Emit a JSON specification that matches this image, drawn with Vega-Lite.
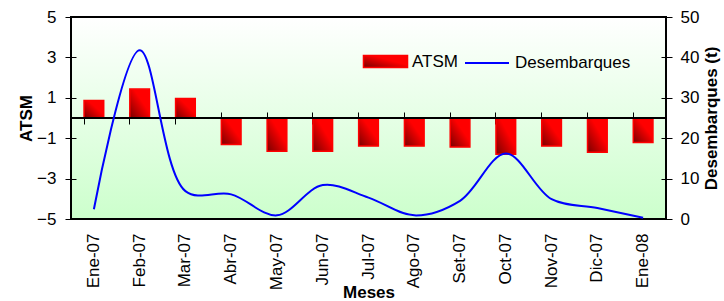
{
  "$schema": "https://vega.github.io/schema/vega-lite/v6.json",
  "width": 595,
  "height": 202,
  "autosize": "none",
  "padding": {"left": 71, "top": 17, "right": 58, "bottom": 82},
  "background": "white",
  "config": {
    "font": "Liberation Sans",
    "view": {
      "stroke": "#000",
      "strokeWidth": 2,
      "fill": {"gradient": "linear", "x1": 0, "y1": 1, "x2": 0, "y2": 0,
        "stops": [{"offset": 0, "color": "#ccffcc"}, {"offset": 1, "color": "#ffffff"}]}
    },
    "axis": {
      "labelFont": "Liberation Sans", "labelFontSize": 17, "labelColor": "#000",
      "titleFont": "Liberation Sans", "titleFontSize": 17, "titleFontWeight": "bold", "titleColor": "#000",
      "tickColor": "#000", "domainColor": "#000", "grid": false
    },
    "legend": {"labelFont": "Liberation Sans", "labelFontSize": 17, "labelColor": "#000"}
  },
  "data": {"values": [
    {"mes": "Ene-07", "atsm": 0.87, "desemb": 2.4},
    {"mes": "Feb-07", "atsm": 1.43, "desemb": 41.8},
    {"mes": "Mar-07", "atsm": 0.97, "desemb": 6.9},
    {"mes": "Abr-07", "atsm": -1.31, "desemb": 6.1},
    {"mes": "May-07", "atsm": -1.64, "desemb": 0.9},
    {"mes": "Jun-07", "atsm": -1.64, "desemb": 8.4},
    {"mes": "Jul-07", "atsm": -1.39, "desemb": 5.3},
    {"mes": "Ago-07", "atsm": -1.39, "desemb": 0.9},
    {"mes": "Set-07", "atsm": -1.44, "desemb": 4.5},
    {"mes": "Oct-07", "atsm": -1.8, "desemb": 16.2},
    {"mes": "Nov-07", "atsm": -1.39, "desemb": 4.9},
    {"mes": "Dic-07", "atsm": -1.7, "desemb": 2.7},
    {"mes": "Ene-08", "atsm": -1.21, "desemb": 0.3}
  ]},
  "layer": [
    {
      "mark": {"type": "bar", "strokeWidth": 1.5,
        "fill": {"gradient": "linear", "x1": 0, "y1": 1, "x2": 1, "y2": 0,
          "stops": [{"offset": 0, "color": "#7a0000"}, {"offset": 0.6, "color": "#ff0000"}, {"offset": 1, "color": "#ff0000"}]}},
      "encoding": {
        "x": {"field": "mes", "type": "nominal", "sort": null,
          "scale": {"paddingInner": 0.57, "paddingOuter": 0.285},
          "axis": {"title": "Meses", "labelAngle": -90, "ticks": false, "tickSize": 0, "domain": false, "labelPadding": 14, "titlePadding": -5}},
        "y": {"field": "atsm", "type": "quantitative",
          "scale": {"domain": [-5, 5], "nice": false},
          "axis": {"title": "ATSM", "values": [-5, -3, -1, 1, 3, 5], "tickSize": 6, "domain": false, "labelPadding": 9, "titlePadding": 1}},
        "stroke": {"datum": "ATSM", "type": "nominal", "scale": {"range": ["#ff0000"]},
          "legend": {"title": null, "orient": "none", "legendX": 306, "legendY": 36,
            "symbolType": "M-3.67,-1H3.67V1H-3.67Z", "symbolSize": 144, "symbolStrokeWidth": 1.5,
            "labelOffset": 18, "padding": 0,
            "encode": {"symbols": {"update": {
              "fill": {"value": {"gradient": "linear", "x1": 0, "y1": 0, "x2": 1, "y2": 0,
                "stops": [{"offset": 0, "color": "#7a0000"}, {"offset": 0.6, "color": "#ff0000"}, {"offset": 1, "color": "#ff0000"}]}},
              "stroke": {"value": "#ff0000"}}}}}}
      }
    },
    {
      "mark": {"type": "rule", "color": "#000", "strokeWidth": 1},
      "encoding": {
        "y": {"datum": 0, "type": "quantitative", "scale": {"domain": [-5, 5], "nice": false},
          "axis": {"orient": "left", "offset": -5, "tickSize": 5, "labels": false, "domain": false, "title": null, "values": [-5, -3, -1, 1, 3, 5]}}
      }
    },
    {
      "mark": {"type": "line", "interpolate": "catmull-rom", "strokeWidth": 2},
      "encoding": {
        "x": {"field": "mes", "type": "nominal", "sort": null,
          "axis": {"orient": "bottom", "offset": -107, "tickSize": 12, "bandPosition": 0, "labels": false, "domain": false, "title": null}},
        "y": {"field": "desemb", "type": "quantitative", "scale": {"domain": [0, 50], "nice": false},
          "axis": {"orient": "right", "title": "Desembarques (t)", "titleAngle": -90, "titleBaseline": "top", "values": [0, 10, 20, 30, 40, 50], "tickSize": 6, "domain": false, "labelPadding": 8, "titlePadding": 5}},
        "stroke": {"datum": "Desembarques", "type": "nominal", "scale": {"range": ["#0000ff"]},
          "legend": {"title": null, "orient": "none", "legendX": 393, "legendY": 23,
            "symbolType": "stroke", "symbolSize": 1936, "symbolStrokeWidth": 2, "labelOffset": 5, "padding": 0}}
      }
    },
    {
      "mark": {"type": "rule", "opacity": 0},
      "encoding": {
        "y": {"datum": 0, "type": "quantitative", "scale": {"domain": [0, 50], "nice": false},
          "axis": {"orient": "right", "offset": -5, "tickSize": 5, "labels": false, "domain": false, "title": null, "values": [0, 10, 20, 30, 40, 50]}}
      }
    }
  ],
  "resolve": {
    "scale": {"y": "independent", "stroke": "independent"},
    "axis": {"x": "independent", "y": "independent"},
    "legend": {"stroke": "independent"}
  }
}
